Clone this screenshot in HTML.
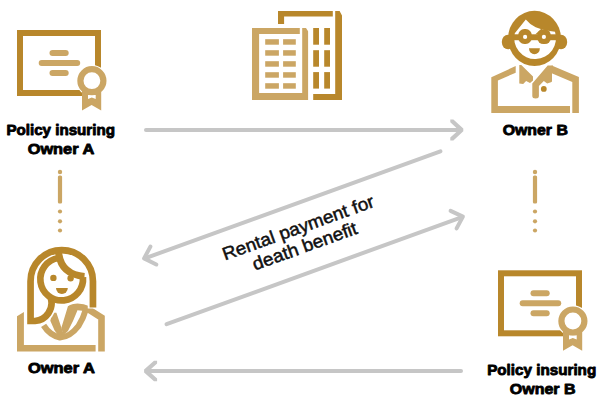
<!DOCTYPE html>
<html><head><meta charset="utf-8"><title>Policy exchange diagram</title>
<style>
html,body{margin:0;padding:0;background:#fff;}
body{width:605px;height:409px;overflow:hidden;}
svg{display:block;}
text{font-family:"Liberation Sans",sans-serif;}
.b{font-weight:bold;font-size:15.5px;fill:#000;text-anchor:middle;stroke:#000;stroke-width:0.9px;stroke-linejoin:round;}
.r{font-size:18px;fill:#111;text-anchor:middle;stroke:#111;stroke-width:0.5px;}
</style></head><body>
<svg width="605" height="409" viewBox="0 0 605 409">
<defs>
<g id="cert">
  <rect x="20" y="33" width="78" height="60" fill="none" stroke="#B8872B" stroke-width="6"/>
  <circle cx="91.9" cy="80.7" r="15.7" fill="#fff"/>
  <g stroke="#CBA664" stroke-width="6" stroke-linecap="round">
    <line x1="52.5" y1="53" x2="65.7" y2="53"/>
    <line x1="41.7" y1="63" x2="77.2" y2="63"/>
    <line x1="52.5" y1="73" x2="65.7" y2="73"/>
  </g>
  <path d="M82,88 L101.2,88 L101.2,110.4 L91.6,105 L82,110.4 Z" fill="#CBA664"/>
  <path d="M88,94.9 L95.7,94.9 L95.7,99.1 L91.8,97.6 L88,99.1 Z" fill="#fff"/>
  <circle cx="91.9" cy="80.7" r="11.5" fill="#fff" stroke="#CBA664" stroke-width="6.2"/>
</g>
</defs>

<!-- arrows -->
<g fill="none" stroke="#C6C6C6" stroke-width="4" stroke-linecap="round" stroke-linejoin="round">
  <line x1="146" y1="129.9" x2="459" y2="129.9"/>
  <line x1="440.4" y1="151.3" x2="145" y2="258.3"/>
  <polyline points="150.4,246.6 144.1,258.4 156.3,264.5"/>
  <line x1="166.6" y1="324.2" x2="462" y2="217.1"/>
  <polyline points="450.6,210.9 462.9,216.6 456.6,228.4"/>
  <line x1="461" y1="371" x2="148" y2="371"/>
</g>
<g fill="#C6C6C6">
  <path d="M450.3,119.4 H453.4 L463.3,128.5 V131.3 L453.4,140.4 H450.3 V137.6 L458.6,129.9 L450.3,122.2 Z"/>
  <path d="M157.1,360.8 H154 L144.1,369.6 V372.4 L154,381.2 H157.1 V378.4 L148.8,371 L157.1,363.6 Z"/>
</g>

<!-- dotted connectors -->
<g fill="#CBA664">
  <circle cx="60" cy="172" r="2.2"/><rect x="57.9" y="175.5" width="4.2" height="28" rx="1.5"/>
  <circle cx="60" cy="211.5" r="2.1"/><circle cx="60" cy="221.3" r="2.1"/><circle cx="60" cy="230.5" r="2.1"/>
  <circle cx="535" cy="172" r="2.2"/><rect x="532.9" y="175.5" width="4.2" height="28" rx="1.5"/>
  <circle cx="535" cy="211.5" r="2.1"/><circle cx="535" cy="221.3" r="2.1"/><circle cx="535" cy="230.5" r="2.1"/>
</g>

<!-- certificates -->
<use href="#cert"/>
<use href="#cert" transform="translate(481,240.3)"/>

<!-- buildings -->
<g fill="#B8872B">
  <path d="M278,10.9 H332.8 V16.6 H284.1 V24 H278 Z"/>
  <path d="M335.2,10.9 H339.6 L342,15.5 V99.9 H313.2 V94.1 H335.2 Z"/>
  <rect x="313.2" y="28" width="5.8" height="16.7"/><rect x="324.2" y="28" width="5.8" height="16.7"/>
  <rect x="313.2" y="50.2" width="5.8" height="16.5"/><rect x="324.2" y="50.2" width="5.8" height="16.5"/>
  <rect x="313.2" y="72.1" width="5.8" height="16.5"/><rect x="324.2" y="72.1" width="5.8" height="16.5"/>
</g>
<g fill="#CBA664">
  <path d="M252,28 H299.8 V34 H259.1 V93 H302.2 V28 H306 L308.1,31.3 V99.9 H252 Z"/>
  <g id="wrow"><rect x="265.2" y="39.2" width="13.7" height="5.5"/><rect x="283.1" y="39.2" width="12.7" height="5.5"/></g>
  <use href="#wrow" y="11"/><use href="#wrow" y="22"/><use href="#wrow" y="33"/><use href="#wrow" y="44"/>
</g>

<!-- Owner B -->
<g>
  <g fill="#B8872B">
    <ellipse cx="508" cy="42" rx="6.2" ry="7.3"/><ellipse cx="561" cy="42" rx="6.2" ry="7.3"/>
    <ellipse cx="534.5" cy="38.4" rx="26.5" ry="27.6"/>
  </g>
  <path d="M514.8,33.2 L525.8,19.6 Q529.5,24.3 535.7,27.3 Q541,29.5 548,30.8 L555,31.8 A20.9,20.9 0 1 1 514.8,33.2 Z" fill="#fff"/>
  <g fill="#B8872B">
    <rect x="518.1" y="29.1" width="13.8" height="14.9" rx="6.2" ry="6.6"/>
    <rect x="537.2" y="29.3" width="13.8" height="14.8" rx="6.2" ry="6.6"/>
    <rect x="513" y="34.3" width="44" height="5.9"/>
    <path d="M541.5,28.6 L535.2,34.6 H545 Z"/>
  </g>
  <circle cx="525.1" cy="36.9" r="2.1" fill="#fff"/><circle cx="543.9" cy="36.9" r="2.1" fill="#fff"/>
  <path d="M529,48.2 H539.9 A5.45,6 0 0 1 529,48.2 Z" fill="#B8872B"/>
  <g fill="#CBA664">
    <path d="M491.3,112.9 V77.3 L515.7,66 V72.7 L497.9,80.6 V106 H570 V112.9 Z"/>
    <path d="M572.3,112.9 V82 L551.7,73.2 V65.4 L578.9,76.9 V112.9 Z"/>
    <path d="M519.3,64.9 H521.3 L533,76.5 V80.5 L530,83 L526.1,81 L523.2,84 L519.3,83.5 Z"/>
    <path d="M547.7,65.4 H553 L552,72.5 V81.5 L551,82.3 L547.2,83.6 L543.8,81 L538.9,86 V96 Q538.9,98.5 535.6,98.5 Q532.3,98.5 532.3,96 V83.5 Z"/>
  </g>
  <circle cx="543.8" cy="88.9" r="2.9" fill="#B8872B"/>
</g>

<!-- Owner A -->
<g>
  <g fill="#CBA664">
    <path d="M17,316.3 L23.9,311.9 V345 H95.6 V351.6 H17 Z"/>
    <path d="M68,306 Q65,316 61.3,328 L63.5,335 L68,331 Q73,322 77.4,310.5 L74,304.5 Z"/>
    <path d="M56.4,312.7 L52.3,312.5 L50.3,320.7 L54.6,330.5 L58,335 L64,335 L61.5,328 Z"/>
  </g>
  <g fill="none" stroke="#CBA664" stroke-linecap="butt" stroke-linejoin="miter">
    <path d="M70.5,308.2 Q78.5,305 89,309.6 L101.5,317.6 V351.6" stroke-width="6.6"/>
    <path d="M43.6,325.4 Q49.5,335 60,337.6 Q70,337 78.5,326 Q83.5,318 86,309" stroke-width="6"/>
  </g>
  <!-- white halo for hair -->
  <g fill="none" stroke="#fff" stroke-width="10.5">
    <path d="M30.4,300 V321 H35 A18,18 0 0 0 50.8,299"/>
    <path d="M93,290 V308.5"/>
  </g>
  <g fill="none" stroke="#B8872B" stroke-width="6.7">
    <path d="M92.95,307.5 V281.25 A31.2,31.2 0 0 0 30.55,281.25 V321 H35 A18,18 0 0 0 50.8,298"/>
    <path d="M58.5,258 A21.35,21.35 0 1 0 82.95,277.3"/>
    <path d="M58.6,252 Q60.5,274.5 84.5,276.4" stroke-width="7"/>
  </g>
  <g fill="#B8872B">
    <circle cx="53.4" cy="277.9" r="3.2"/><circle cx="70.6" cy="278.2" r="3.2"/>
    <path d="M56,288 H67.8 A5.9,5.9 0 0 1 56,288 Z"/>
  </g>
</g>

<!-- labels -->
<text class="b" x="60.7" y="135.2" textLength="108.6" lengthAdjust="spacingAndGlyphs">Policy insuring</text>
<text class="b" x="61" y="154.3" textLength="66.6" lengthAdjust="spacingAndGlyphs">Owner A</text>
<text class="b" x="535.3" y="135.4" textLength="65.2" lengthAdjust="spacingAndGlyphs">Owner B</text>
<text class="b" x="61.4" y="373.3" textLength="67" lengthAdjust="spacingAndGlyphs">Owner A</text>
<text class="b" x="541.7" y="375.2" textLength="109" lengthAdjust="spacingAndGlyphs">Policy insuring</text>
<text class="b" x="542.7" y="394.3" textLength="65.8" lengthAdjust="spacingAndGlyphs">Owner B</text>
<g transform="translate(300.2,233.5) rotate(-19.8)">
  <text class="r" x="0" y="0" textLength="160" lengthAdjust="spacingAndGlyphs">Rental payment for</text>
  <text class="r" x="0" y="19.5" textLength="110" lengthAdjust="spacingAndGlyphs">death benefit</text>
</g>
</svg>
</body></html>
